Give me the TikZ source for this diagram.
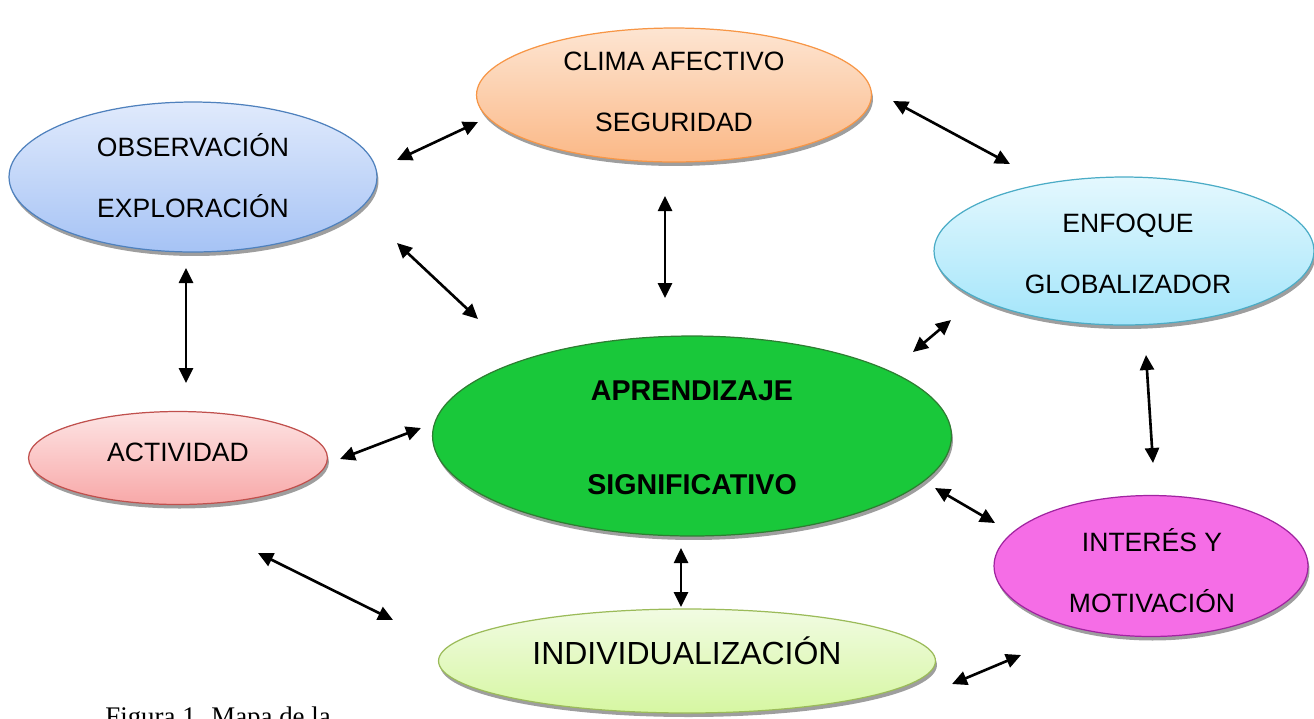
\documentclass[tikz,border=0pt]{standalone}
\usepackage{fontspec}
\setmainfont{Liberation Sans}
\newfontfamily\capfont{Liberation Serif}
\usetikzlibrary{shapes.geometric,arrows.meta,shadows}
\definecolor{climaT}{HTML}{FDE5D2}
\definecolor{climaB}{HTML}{FBB886}
\definecolor{climaD}{HTML}{F79646}
\definecolor{obsT}{HTML}{E0EAFC}
\definecolor{obsB}{HTML}{A6C3F5}
\definecolor{obsD}{HTML}{4F81BD}
\definecolor{enfT}{HTML}{E4F8FE}
\definecolor{enfB}{HTML}{A3E5FA}
\definecolor{enfD}{HTML}{4BACC6}
\definecolor{aprF}{HTML}{19C83A}
\definecolor{aprD}{HTML}{2E7D32}
\definecolor{actT}{HTML}{FDE4E4}
\definecolor{actB}{HTML}{F8A8A8}
\definecolor{actD}{HTML}{C0504D}
\definecolor{intF}{HTML}{F56DE6}
\definecolor{intD}{HTML}{A024A0}
\definecolor{indT}{HTML}{F1FBE2}
\definecolor{indB}{HTML}{D6F7A2}
\definecolor{indD}{HTML}{9BBB59}
\begin{document}
\begin{tikzpicture}[x=0.02cm,y=-0.02cm,
  bub/.style={ellipse, inner sep=0pt, line width=0.7pt,
    drop shadow={shadow xshift=0.03cm, shadow yshift=-0.08cm, fill=black!38, opacity=1}},
  lbl/.style={anchor=base, inner sep=0pt, font=\fontsize{15.1}{17}\selectfont},
  blbl/.style={anchor=base, inner sep=0pt, font=\fontsize{16.3}{19}\selectfont\bfseries},
  link/.style={{Triangle[length=0.3cm,width=0.28cm]}-{Triangle[length=0.3cm,width=0.28cm]}, line width=1.5pt}
]
\useasboundingbox (0,0) rectangle (1314,718);
\clip (0,0) rectangle (1314,718);

% ellipses
\node[bub, draw=climaD, top color=climaT, bottom color=climaB,
  minimum width=7.9cm, minimum height=2.68cm] (clima) at (674,95) {};
\node[bub, draw=obsD, top color=obsT, bottom color=obsB,
  minimum width=7.36cm, minimum height=3.0cm] (obs) at (193,177) {};
\node[bub, draw=enfD, top color=enfT, bottom color=enfB,
  minimum width=7.6cm, minimum height=2.96cm] (enf) at (1124,251) {};
\node[bub, draw=aprD, fill=aprF,
  minimum width=10.38cm, minimum height=4.0cm] (apr) at (692,436) {};
\node[bub, draw=actD, top color=actT, bottom color=actB,
  minimum width=5.98cm, minimum height=1.86cm] (act) at (178,458) {};
\node[bub, draw=intD, fill=intF,
  minimum width=6.28cm, minimum height=2.82cm] (int) at (1151,566) {};
\node[bub, draw=indD, top color=indT, bottom color=indB,
  minimum width=9.94cm, minimum height=2.08cm] (ind) at (687,661) {};

% labels
\node[lbl] (t1) at (674,70) {CLIMA AFECTIVO};
\node[lbl] (t2) at (674,131) {SEGURIDAD};
\node[lbl] (t3) at (193,156) {OBSERVACIÓN};
\node[lbl] (t4) at (193,217) {EXPLORACIÓN};
\node[lbl] (t5) at (1128,232) {ENFOQUE};
\node[lbl] (t6) at (1128,293) {GLOBALIZADOR};
\node[blbl] (t7) at (692,400) {APRENDIZAJE};
\node[blbl] (t8) at (692,494) {SIGNIFICATIVO};
\node[lbl] (t9) at (178,461) {ACTIVIDAD};
\node[lbl] (t10) at (1152,551) {INTERÉS Y};
\node[lbl] (t11) at (1152,612) {MOTIVACIÓN};
\node[anchor=base, inner sep=0pt, font=\fontsize{18.2}{21}\selectfont] (t12) at (687,664) {INDIVIDUALIZACIÓN};

% caption (cut at the bottom edge, as in the reference)
\node[anchor=base west, inner sep=0pt, font=\capfont\fontsize{15.3}{18}\selectfont] (cap) at (105,725) {Figura 1. Mapa de la};

% connector end points
\coordinate (a1) at (397,160); \coordinate (b1) at (478,122);
\coordinate (a2) at (893,101); \coordinate (b2) at (1010,164);
\coordinate (a3) at (397,243); \coordinate (b3) at (478,319);
\coordinate (a4) at (665,196); \coordinate (b4) at (665,298);
\coordinate (a5) at (186,268); \coordinate (b5) at (186,383);
\coordinate (a6) at (913,352); \coordinate (b6) at (951,320);
\coordinate (a7) at (1146,355); \coordinate (b7) at (1153,463);
\coordinate (a8) at (340,459); \coordinate (b8) at (421,428);
\coordinate (a9) at (935,488); \coordinate (b9) at (995,523);
\coordinate (a10) at (681,548); \coordinate (b10) at (681,607);
\coordinate (a11) at (258,553); \coordinate (b11) at (393,620);
\coordinate (a12) at (952,684); \coordinate (b12) at (1021,655);

\foreach \i in {1,...,12} {\draw[link] (a\i) -- (b\i);}
\end{tikzpicture}
\end{document}
